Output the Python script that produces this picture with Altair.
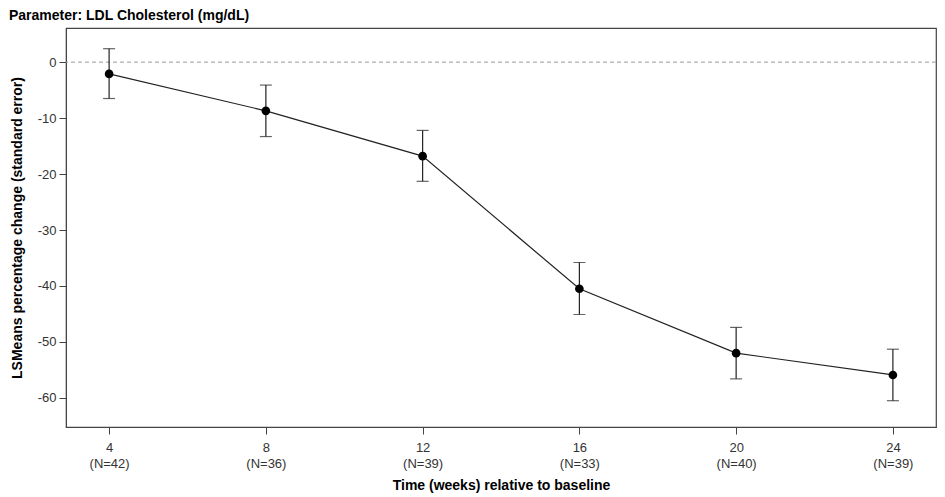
import altair as alt
import pandas as pd

weeks = [4, 8, 12, 16, 20, 24]
n_counts = [42, 36, 39, 33, 40, 39]
lsmeans = [-2.1, -8.7, -16.8, -40.5, -52.0, -55.9]
lower = [-6.5, -13.3, -21.3, -45.1, -56.6, -60.5]
upper = [2.4, -4.1, -12.2, -35.8, -47.4, -51.3]

df = pd.DataFrame({"week": weeks, "n": n_counts, "mean": lsmeans,
                   "lower": lower, "upper": upper})

nmap = "{" + ",".join(f"'{w}':'(N={n})'" for w, n in zip(weeks, n_counts)) + "}"

xscale = alt.Scale(domain=[2.9, 25.1], nice=False, zero=False)
yscale = alt.Scale(domain=[-65.2, 6.1], nice=False, zero=False)

font = "Liberation Sans"

base = alt.Chart(df)

x_enc = alt.X("week:Q", scale=xscale,
              axis=alt.Axis(values=weeks, title="Time (weeks) relative to baseline",
                            labelExpr=f"[datum.label, {nmap}[datum.label]]",
                            labelLineHeight=16, labelFontSize=13, labelColor="#333",
                            titleFontSize=14, titleFontWeight="bold", titleColor="#000",
                            titlePadding=8, tickSize=7, labelPadding=7,
                            grid=False, domainColor="#444", tickColor="#444",
                            labelFont=font, titleFont=font))
y_enc = alt.Y("mean:Q", scale=yscale,
              axis=alt.Axis(values=[0, -10, -20, -30, -40, -50, -60],
                            labelExpr="'' + datum.value",
                            title="LSMeans percentage change (standard error)",
                            labelFontSize=13, labelColor="#333",
                            titleFontSize=14, titleFontWeight="bold", titleColor="#000",
                            titlePadding=13, tickSize=7, labelPadding=3,
                            grid=False, domainColor="#444", tickColor="#444",
                            labelFont=font, titleFont=font))

zero = alt.Chart(pd.DataFrame({"z": [0]})).mark_rule(
    color="#999", strokeDash=[4, 3], strokeWidth=1).encode(y=alt.Y("z:Q", scale=yscale))

line = base.mark_line(color="#222", strokeWidth=1.2).encode(x=x_enc, y=y_enc)
pts = base.mark_point(filled=True, color="#000", size=75, opacity=1).encode(
    x=alt.X("week:Q", scale=xscale), y=alt.Y("mean:Q", scale=yscale))
err = base.mark_errorbar(color="#222", ticks=alt.TickConfig(size=12), thickness=1.2).encode(
    x=alt.X("week:Q", scale=xscale),
    y=alt.Y("lower:Q", scale=yscale, title=""), y2="upper:Q")

chart = alt.layer(zero, err, line, pts).properties(
    width=870, height=399,
    autosize=alt.AutoSizeParams(type="none"),
    padding={"left": 58, "top": 20, "right": 1, "bottom": 68},
    title=alt.TitleParams("Parameter: LDL Cholesterol (mg/dL)", anchor="start",
                          frame="group", dx=-57, offset=5,
                          fontSize=14, fontWeight="bold", font=font, color="#000"),
    background="white",
).configure_view(stroke="#444", strokeWidth=1.2)

chart.save("out.html", embed_options={"renderer": "svg", "actions": False})
